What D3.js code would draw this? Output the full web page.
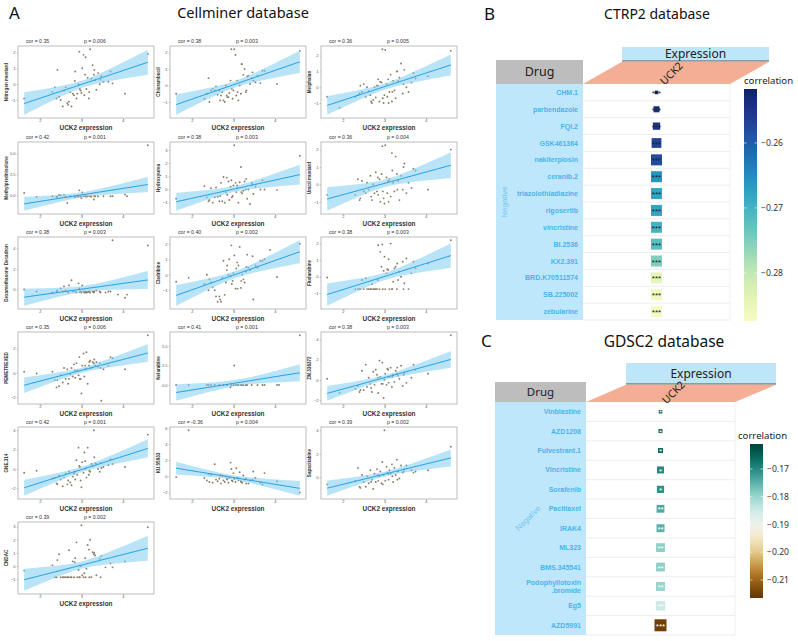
<!DOCTYPE html>
<html>
<head>
<meta charset="utf-8">
<script src="https://cdn.jsdelivr.net/npm/d3@7"></script>
<style>
  body { margin: 0; background: #fff; }
  svg { display: block; }
</style>
</head>
<body>
<svg id="fig" width="798" height="641"></svg>
<script>

/* Data
-------------------------------------------------------------------------------------------------*/

// UCK2 expression of the cell lines (shared x of every scatter)
const uck2 = [1.62, 1.92, 2.30, 2.36, 2.42, 2.46, 2.50, 2.55, 2.58, 2.62,
  2.66, 2.70, 2.73, 2.76, 2.79, 2.82, 2.85, 2.88, 2.90, 2.93,
  2.95, 2.98, 3.00, 3.02, 3.05, 3.07, 3.10, 3.12, 3.15, 3.18,
  3.21, 3.24, 3.27, 3.30, 3.33, 3.36, 3.40, 3.44, 3.48, 3.53,
  3.58, 3.65, 3.75, 3.88, 4.05, 4.60,
  2.40, 2.68, 2.84, 2.96, 3.09, 3.19, 3.31, 3.46, 3.70, 4.10]

const nitrogenMustard = [-0.9, null, -0.5, -0.2, 0.9, -0.8, -1.0, -1.4, -0.4, -0.2,
  -1.2, -1.1, -0.5, -1.4, -0.6, -0.7, 0.8, -0.9, -0.6, 0.0,
  2.05, -0.4, -0.55, 1.0, 1.85, -0.7, 1.7, -0.3, 0.4, -0.9,
  2.2, 0.35, 1.2, 0.6, 0.25, -0.35, 0.7, 0.0, 0.5, 0.15,
  null, 0.15, 0.05, null, -0.6, 1.9,
  -0.9, -1.3, 0.2, -0.3, 0.6, -0.5, 0.9, 0.3, 0.8, null]
const chlorambucil = [-0.5, null, -0.8, -0.5, -1.0, -0.3, -0.2, -0.3, -0.05, -0.55,
  -0.3, -0.6, -0.4, -0.9, -1.0, 0.0, -0.7, -0.7, -0.45, 0.3,
  2.2, -0.8, -0.3, 2.2, 1.85, -0.6, -0.4, -0.9, 0.0, -0.5,
  1.3, 0.65, 1.0, -0.4, 0.55, 0.6, 0.1, 0.45, 0.3, 0.2,
  0.6, 0.15, 0.9, null, 0.1, 2.1,
  0.45, -0.9, -0.6, -0.2, 0.3, 1.3, -0.3, 0.8, 0.9, null]
const melphalan = [-0.6, -1.3, -0.6, -0.5, 0.1, -0.3, 0.2, -0.6, 0.0, -0.25,
  -0.5, -1.0, -0.8, 0.0, -0.65, 0.1, 0.5, -0.9, 0.35, 0.3,
  2.4, -1.0, -0.5, 2.35, 0.2, -0.6, -1.0, -0.3, 0.8, -0.9,
  0.4, -0.2, -0.7, 1.0, 0.4, 0.6, 1.5, -0.4, 1.1, 0.0,
  -0.3, 0.3, 0.55, null, 0.7, 2.3,
  -0.4, -0.9, 0.1, -0.7, 0.5, -0.3, 1.0, 0.2, 0.9, null]
const methylprednisolone = [0.3, -0.2, -0.1, null, -0.15, 0.05, 0.0, null, 0.05, -0.15,
  -0.9, null, -0.1, null, null, null, -0.2, null, -0.1, -0.15,
  0.6, -0.1, -0.3, 0.35, -0.1, null, -0.1, -0.15, -0.1, null,
  -0.1, -0.15, null, -0.5, -0.1, null, -0.1, null, null, -0.1,
  null, null, -0.1, null, 0.1, 6.0,
  -0.2, null, -0.15, null, -0.1, null, -0.1, null, -0.1, -0.1]
const hydroxyurea = [-0.7, null, 0.25, -0.6, -0.8, 0.1, -1.0, -0.6, 0.15, -0.55,
  -0.9, 0.5, -0.9, 0.95, -1.0, -0.2, -0.4, 0.6, -0.8, 0.2,
  0.7, -0.5, 0.3, 3.35, 0.5, -0.2, 0.1, -1.0, 0.55, 1.7,
  -0.3, -0.1, 0.6, 0.0, -0.7, 0.0, -1.1, 0.5, -0.35, 0.2,
  null, 0.0, 0.0, null, -0.05, 2.55,
  -0.9, -0.5, 0.9, -0.6, 0.3, -0.2, 0.8, 0.4, 0.7, null]
const uracilMustard = [-0.6, null, -0.6, 0.3, -0.8, 0.2, -0.4, -0.5, 0.1, -0.3,
  0.5, -0.9, 0.0, -0.5, 0.7, -0.4, -0.6, 0.3, -1.0, 0.6,
  2.2, -0.8, -1.1, 2.25, 0.4, -0.5, -1.0, 0.3, -0.7, 1.8,
  0.1, -0.4, 1.6, 0.6, 0.2, -0.9, 0.5, -0.3, 1.2, -0.5,
  0.1, -0.2, 0.8, null, -0.3, 2.0,
  -0.9, -0.7, 0.4, -0.4, 0.2, 0.8, -0.3, 1.0, 0.9, null]
const dexamethasone = [0.0, -0.2, -0.3, null, -0.1, null, 0.1, -0.2, 0.3, -0.1,
  null, 0.4, null, 0.9, -0.2, null, null, -0.3, null, 0.6,
  0.1, -0.2, -0.3, 0.4, -0.2, -0.3, -0.2, -0.3, -0.25, -0.2,
  -0.3, null, -0.2, -0.3, null, -0.1, null, -0.2, null, null,
  -0.3, -0.2, 4.8, -0.5, -0.8, 4.3,
  -0.2, -0.3, -0.2, -0.25, -0.3, -0.2, -0.2, -0.3, -0.2, -0.5]
const cladribine = [-0.45, -0.2, -0.6, 0.0, -0.3, -0.5, -0.8, -1.0, -1.4, -1.75,
  -1.4, -1.75, -0.2, 0.9, -1.3, -0.5, 0.6, 0.0, 1.0, -0.1,
  1.9, -0.4, 0.1, 1.25, -0.9, 0.4, -0.9, 0.6, 1.8, -0.85,
  0.0, -0.3, -0.5, 0.2, 1.3, 0.45, 0.3, null, -1.6, 0.6,
  0.45, 0.9, 1.0, 1.6, -0.15, 2.0,
  -1.0, -1.6, 0.3, -0.6, 0.8, -0.4, 0.5, 1.2, 0.9, null]
const fludarabine = [-0.05, null, -0.75, -0.75, -0.75, -0.2, -0.75, -0.1, -0.75, -0.75,
  -0.75, -0.45, -0.75, -0.75, -0.75, -0.75, 1.9, -0.75, 1.5, 0.6,
  1.95, 0.35, 1.2, -0.75, 0.2, 0.45, 1.05, -0.75, 2.0, -0.75,
  -0.3, 0.5, 0.6, -0.75, -0.2, 0.3, 0.0, 0.9, -0.4, 1.1,
  -0.75, 0.2, 0.5, null, 0.8, 2.2,
  -0.75, -0.75, -0.2, -0.75, 0.4, -0.75, 0.8, -0.75, 0.9, null]
const pemetrexed = [0.1, -0.05, 0.1, -0.6, -0.6, -1.1, -0.2, -0.8, 0.4, -0.5,
  0.3, -0.5, -0.1, 0.4, -0.3, 0.7, -0.4, 0.8, 0.2, -0.2,
  1.3, -0.5, -1.7, 0.6, 1.6, -0.3, 0.3, 1.7, -0.9, 0.6,
  1.0, 0.4, 0.9, 0.8, 0.6, 0.9, 0.5, 0.8, -2.3, 0.3,
  null, 0.6, 1.2, null, 0.3, 3.1,
  -1.2, -0.9, 0.2, -0.5, 0.6, 0.9, 1.1, 0.4, 1.3, null]
const nelarabine = [0.0, 0.0, null, 0.0, null, 0.0, null, 0.0, null, null,
  0.0, null, null, 0.0, null, null, 0.0, null, null, -0.3,
  0.0, null, 0.0, 2.5, 0.0, null, 0.0, 0.0, null, 0.0,
  0.0, 0.0, null, 0.0, 0.0, null, null, 0.0, null, null,
  0.0, null, 0.0, null, 0.0, 6.4,
  0.0, null, 0.0, null, 0.0, null, 0.0, null, 0.0, 0.0]
const zm336372 = [0.1, -1.3, -0.9, -0.6, -1.0, 0.9, -1.0, 1.5, -0.7, 0.2,
  -0.4, -1.2, 0.8, -0.5, 1.0, 0.5, -1.3, 1.9, 0.3, -0.4,
  1.7, -1.8, 0.0, 0.6, -0.5, 1.1, -0.3, 0.3, 1.2, -0.7,
  0.5, -0.2, 0.9, 0.6, 0.4, 0.1, 1.4, -0.6, 0.7, -0.3,
  null, 0.2, 1.0, null, 0.6, 4.4,
  -1.2, -0.8, 0.2, -0.4, 1.0, 0.3, 1.2, 0.5, 1.5, null]
const gne314 = [-0.4, -0.2, -1.0, -0.9, -1.6, -0.7, -1.1, -1.8, -0.9, -0.5,
  -1.6, -0.3, -1.4, -1.7, -0.8, -0.5, -1.1, 0.9, -0.6, 2.2,
  0.3, -1.2, -1.9, 0.7, -0.4, 1.7, 0.0, -0.9, 2.2, -0.6,
  -0.3, 0.5, 0.3, 4.0, 0.6, 0.5, 0.0, -0.3, 0.1, 0.2,
  null, 0.4, 0.5, null, 0.2, 3.55,
  -1.5, -1.2, -0.3, 0.2, 0.8, -0.2, 1.2, 0.6, 1.0, null]
const ku55933 = [-0.1, 5.7, -0.2, -0.5, -0.7, 0.2, -0.8, 1.5, -0.4, -0.6,
  -0.3, -0.9, 0.1, -0.5, -0.7, 0.0, -0.4, -0.8, -0.2, 1.7,
  0.9, -0.6, 0.4, -0.3, -0.7, 1.0, -0.2, -0.5, 0.5, -0.6,
  -0.8, 0.1, -0.4, -0.3, null, -0.9, -0.5, null, 0.6, -0.2,
  null, -0.8, 0.4, null, -0.6, -2.0,
  0.3, 0.1, -0.3, -0.5, -0.2, -0.7, -0.9, -0.4, -1.0, null]
const sapacitabine = [-0.6, null, -0.3, 0.8, -0.9, 0.2, -0.4, -0.8, 0.1, -0.5,
  0.6, -0.2, -1.0, 0.3, -0.4, 0.7, -0.3, 0.1, 0.5, -0.5,
  1.3, 0.2, 4.0, -0.3, 0.9, 0.4, -0.2, 0.6, 0.3, 1.1,
  -0.4, 0.8, 0.2, 1.5, 0.5, -0.1, 1.0, 0.4, 0.7, 1.0,
  null, 0.6, 0.5, null, 0.6, 2.6,
  -0.8, -0.4, 0.2, -0.6, 0.3, 0.1, -0.2, 0.5, 0.4, null]
const cndac = [-0.35, null, 0.05, -0.85, 0.45, 0.9, -0.85, -0.85, -0.85, -0.85,
  -0.85, 1.2, -0.85, -0.85, 0.35, -0.85, 0.6, 1.8, -0.85, -0.3,
  -0.85, 0.0, 3.1, -0.7, -0.85, -0.55, -0.85, -0.2, 1.6, 1.25,
  2.0, -0.85, 1.05, 0.9, 0.8, -0.7, null, 0.55, 0.75, null,
  -0.1, null, -0.1, null, 0.35, 2.95,
  -0.85, -0.85, 0.3, -0.85, 0.6, -0.85, 1.0, -0.85, 0.2, null]

const cellminerNames = ["Nitrogen mustard", "Chlorambucil", "Melphalan",
  "Methylprednisolone", "Hydroxyurea", "Uracil mustard",
  "Dexamethasone Decadron", "Cladribine", "Fludarabine",
  "PEMETREXED", "Nelarabine", "ZM.336372",
  "GNE.314", "KU.55933", "Sapacitabine",
  "CNDAC"]
const cellminerValues = [nitrogenMustard, chlorambucil, melphalan,
  methylprednisolone, hydroxyurea, uracilMustard,
  dexamethasone, cladribine, fludarabine,
  pemetrexed, nelarabine, zm336372,
  gne314, ku55933, sapacitabine,
  cndac]
const corLabels = ["0.35", "0.38", "0.36", "0.42", "0.38", "0.36", "0.38", "0.40", "0.38",
  "0.35", "0.41", "0.38", "0.42", "-0.36", "0.39", "0.39"]
const pLabels = ["0.006", "0.003", "0.005", "0.001", "0.003", "0.004", "0.003", "0.002", "0.003",
  "0.006", "0.001", "0.003", "0.001", "0.004", "0.002", "0.002"]
const yTickLabels = [[-1, 0, 1, 2], [-1, 0, 1, 2], [-1, 0, 1, 2],
  [0, 2.5, 5], [-1, 0, 1, 2, 3], [-1, 0, 1, 2],
  [0, 2, 4], [-1, 0, 1, 2], [-1, 0, 1, 2],
  [-2, 0, 2], [0, 2.5, 5], [-2, 0, 2, 4],
  [-2, 0, 2, 4], [-2, 0, 2, 4, 6], [-2, 0, 2, 4],
  [-1, 0, 1, 2, 3]]
const xTickLabels = [2, 3, 4]

// CTRP2
const ctrpDrugs = ["CHM.1", "parbendazole", "FQI.2", "GSK461364", "nakiterpiosin", "ceranib.2",
  "triazolothiadiazine", "rigosertib", "vincristine", "BI.2536", "KX2.391", "BRD.K70511574",
  "SB.225002", "zebularine"]
const ctrpCor = [-0.252, -0.254, -0.255, -0.257, -0.258, -0.266, -0.268, -0.268, -0.270, -0.272,
  -0.275, -0.284, -0.286, -0.287]
const ctrpStars = ["***", "***", "***", "***", "***", "***", "***", "***", "***", "***", "***", "***", "***", "***"]
const ctrpTicks = [-0.26, -0.27, -0.28]

// GDSC2
const gdscDrugs = ["Vinblastine", "AZD1208", "Fulvestrant.1", "Vincristine", "Sorafenib", "Paclitaxel",
  "IRAK4", "ML323", "BMS.345541", "Podophyllotoxin\n.bromide", "Eg5", "AZD5991"]
const gdscCor = [-0.163, -0.164, -0.166, -0.170, -0.171, -0.174, -0.175, -0.179, -0.179, -0.180,
  -0.185, -0.215]
const gdscStars = ["*", "*", "*", "*", "*", "**", "**", "**", "**", "**", "**", "***"]
const gdscTicks = [-0.17, -0.18, -0.19, -0.20, -0.21]


/* Setup
-------------------------------------------------------------------------------------------------*/
const svg = d3.select("#fig")
const SANS = "'Liberation Sans', Arial, sans-serif"
const TITLE = "'Noto Sans', 'Open Sans', sans-serif"

const title = (x, y, txt, size, anchor) => svg.append("text")
  .attr("x", x).attr("y", y)
  .attr("text-anchor", anchor || "start")
  .style("font-family", TITLE)
  .style("font-size", size + "px")
  .style("fill", "#111")
  .text(txt)

title(9, 19, "A", 17)
title(243, 18, "Cellminer database", 14.5, "middle")
title(484, 20, "B", 17)
title(657, 19, "CTRP2 database", 14, "middle")
title(481, 347, "C", 17)
title(664, 347, "GDSC2 database", 15.5, "middle")


/* Panel A: scatter + lm
-------------------------------------------------------------------------------------------------*/
const colLeft = [18, 170, 321]
const rowTop = [46, 142, 237, 332, 427, 522]
const frameW = 136, frameH = 72
const tCrit = 2.0

const expand = ([a, b]) => [a - (b - a) * 0.05, b + (b - a) * 0.05]

cellminerValues.forEach((values, i) => {

  const c = i % 3, r = Math.floor(i / 3)
  const g = svg.append("g")
    .attr("transform", "translate(" + colLeft[c] + "," + rowTop[r] + ")")
    .style("font-family", SANS)

  const pts = uck2.map((x, k) => ({x, y: values[k]})).filter(d => d.y != null)

  // linear model, as geom_smooth(method = "lm")
  const n = pts.length
  const mx = d3.mean(pts, d => d.x), my = d3.mean(pts, d => d.y)
  const sxx = d3.sum(pts, d => (d.x - mx) ** 2)
  const sxy = d3.sum(pts, d => (d.x - mx) * (d.y - my))
  const slope = sxy / sxx, icpt = my - slope * mx
  const sigma = Math.sqrt(d3.sum(pts, d => (d.y - icpt - slope * d.x) ** 2) / (n - 2))
  const [xmin, xmax] = d3.extent(pts, d => d.x)
  const grid = d3.range(80).map(k => xmin + (xmax - xmin) * k / 79)
  const band = grid.map(x => {
    const fit = icpt + slope * x
    const se = sigma * Math.sqrt(1 / n + (x - mx) ** 2 / sxx)
    return {x, fit, lo: fit - tCrit * se, hi: fit + tCrit * se}
  })

  const x = d3.scaleLinear().domain(expand([xmin, xmax])).range([0, frameW])
  const yLo = Math.min(d3.min(pts, d => d.y), d3.min(band, d => d.lo))
  const yHi = Math.max(d3.max(pts, d => d.y), d3.max(band, d => d.hi))
  const y = d3.scaleLinear().domain(expand([yLo, yHi])).range([frameH, 0])

  // points
  g.append("g").selectAll("circle")
    .data(pts)
    .enter()
    .append("circle")
    .attr("cx", d => x(d.x))
    .attr("cy", d => y(d.y))
    .attr("r", 0.95)
    .style("fill", "#8a7b68")

  // confidence band
  g.append("path")
    .datum(band)
    .style("fill", "#7fcdf2")
    .style("fill-opacity", 0.55)
    .attr("d", d3.area().x(d => x(d.x)).y0(d => y(d.lo)).y1(d => y(d.hi)))

  // fit
  g.append("path")
    .datum(band)
    .style("fill", "none")
    .style("stroke", "#1b9de2")
    .style("stroke-width", 1)
    .attr("d", d3.line().x(d => x(d.x)).y(d => y(d.fit)))

  // frame
  g.append("rect")
    .attr("width", frameW).attr("height", frameH)
    .style("fill", "none").style("stroke", "#b5b5b5").style("stroke-width", 0.9)

  // axes
  const yt = yTickLabels[i].filter(v => v >= y.domain()[0] && v <= y.domain()[1])
  const yFmt = yTickLabels[i].some(v => !Number.isInteger(v)) ? d3.format(".1f") : d3.format("d")
  const ax = g.append("g")
    .call(d3.axisLeft(y).tickValues(yt).tickSize(1.5).tickPadding(1).tickFormat(yFmt))
  const bx = g.append("g")
    .attr("transform", "translate(0," + frameH + ")")
    .call(d3.axisBottom(x).tickValues(xTickLabels).tickSize(1.2).tickPadding(0.4).tickFormat(d3.format("d")))
  ;[ax, bx].forEach(a => {
    a.select(".domain").remove()
    a.selectAll("line").style("stroke", "#999").style("stroke-width", 0.5)
    a.selectAll("text").style("font-size", "4px").style("fill", "#555").style("font-family", SANS)
  })

  // labels
  g.append("text")
    .attr("transform", "rotate(-90)")
    .attr("x", -frameH / 2).attr("y", -10)
    .attr("text-anchor", "middle")
    .style("font-size", "4.6px").style("font-weight", "bold").style("fill", "#333")
    .text(cellminerNames[i])

  g.append("text")
    .attr("x", frameW / 2).attr("y", frameH + 12)
    .attr("text-anchor", "middle")
    .style("font-size", "6.4px").style("font-weight", "bold").style("fill", "#333")
    .text("UCK2 expression")

  g.append("text")
    .attr("x", 8).attr("y", -3)
    .style("font-size", "5.2px").style("fill", "#333")
    .text("cor = " + corLabels[i])

  g.append("text")
    .attr("x", 66).attr("y", -3)
    .style("font-size", "5.2px").style("fill", "#333")
    .text("p = " + pLabels[i])
})


/* Panels B & C: correlation tables
-------------------------------------------------------------------------------------------------*/
function corTable(o) {

  const g = svg.append("g").style("font-family", SANS)
  const rows = d3.scaleBand().domain(o.drugs).range([o.top, o.bottom])
  const cx = (o.listX1 + o.cellX1) / 2

  // header
  g.append("rect")
    .attr("x", o.exprX0).attr("y", o.exprY0)
    .attr("width", o.exprX1 - o.exprX0).attr("height", o.exprY1 - o.exprY0)
    .style("fill", "#bde6f9")
  g.append("line")
    .attr("x1", o.exprX0).attr("x2", o.exprX1).attr("y1", o.exprY1).attr("y2", o.exprY1)
    .style("stroke", "#555").style("stroke-width", 1.2)
  g.append("text")
    .attr("x", (o.exprX0 + o.exprX1) / 2).attr("y", (o.exprY0 + o.exprY1) / 2 + 4.3)
    .attr("text-anchor", "middle")
    .style("font-family", TITLE).style("font-size", "12px").style("fill", "#222")
    .text("Expression")

  g.append("path")
    .attr("d", d3.line()([[o.listX1, o.top], [o.exprX0, o.exprY1 + 0.8], [o.exprX1, o.exprY1 + 0.8], [o.cellX1, o.top]]) + "Z")
    .style("fill", "#f4ae95")
  g.append("text")
    .attr("transform", "translate(" + o.uckX + "," + o.uckY + ") rotate(-45)")
    .attr("text-anchor", "middle")
    .style("font-family", TITLE).style("font-size", "10.5px").style("fill", "#222")
    .text("UCK2")

  g.append("rect")
    .attr("x", o.listX0).attr("y", o.drugY0)
    .attr("width", o.listX1 - o.listX0).attr("height", o.top - o.drugY0)
    .style("fill", "#bdbdbd")
  g.append("text")
    .attr("x", (o.listX0 + o.listX1) / 2).attr("y", (o.drugY0 + o.top) / 2 + 4.2)
    .attr("text-anchor", "middle")
    .style("font-family", TITLE).style("font-size", o.drugSize + "px").style("fill", "#222")
    .text("Drug")

  // drug column
  g.append("rect")
    .attr("x", o.listX0).attr("y", o.top)
    .attr("width", o.listX1 - o.listX0).attr("height", o.bottom - o.top)
    .style("fill", "#bfe7fb")

  g.append("text")
    .attr("transform", "translate(" + o.negX + "," + o.negY + ") rotate(" + o.negAngle + ")")
    .attr("text-anchor", "middle")
    .style("font-size", "8px").style("fill", "#74c6ee")
    .text("Negative")

  o.drugs.forEach(d => {
    const lines = d.split("\n")
    const t = g.append("text")
      .attr("x", o.listX1 - 5)
      .attr("y", rows(d) + rows.bandwidth() / 2 + 2.5 - (lines.length - 1) * 4)
      .attr("text-anchor", "end")
      .style("font-size", "7px").style("font-weight", "bold").style("fill", "#4ab4ea")
    lines.forEach((l, k) => t.append("tspan").attr("x", o.listX1 - 5).attr("dy", k ? 8 : 0).text(l))
  })

  // cell grid
  g.append("g").selectAll("line")
    .data(o.drugs)
    .enter()
    .append("line")
    .attr("x1", o.listX1).attr("x2", o.cellX1)
    .attr("y1", d => rows(d) + rows.bandwidth()).attr("y2", d => rows(d) + rows.bandwidth())
    .style("stroke", "#e9e9e9").style("stroke-width", 0.8)
  g.append("line")
    .attr("x1", o.cellX1).attr("x2", o.cellX1).attr("y1", o.top).attr("y2", o.bottom)
    .style("stroke", "#ececec").style("stroke-width", 0.8)

  // tiles
  o.drugs.forEach((d, i) => {
    const s = o.size(o.cor[i])
    const yc = rows(d) + rows.bandwidth() / 2
    g.append("rect")
      .attr("x", cx - s / 2).attr("y", yc - s / 2)
      .attr("width", s).attr("height", s)
      .style("fill", o.color(o.cor[i]))
    g.append("text")
      .attr("x", cx).attr("y", yc + 3.6)
      .attr("text-anchor", "middle")
      .style("font-size", "8px").style("fill", o.starColor)
      .text(o.stars[i])
  })

  // colour bar
  const yb = d3.scaleLinear().domain(o.barDomain).range([o.barY1, o.barY0])
  const gradId = "grad" + o.id
  const grad = svg.append("defs").append("linearGradient")
    .attr("id", gradId).attr("x1", 0).attr("x2", 0).attr("y1", 0).attr("y2", 1)
  d3.range(21).forEach(k => {
    const v = yb.invert(o.barY0 + (o.barY1 - o.barY0) * k / 20)
    grad.append("stop").attr("offset", k / 20).attr("stop-color", o.color(v))
  })
  g.append("rect")
    .attr("x", o.barX).attr("y", o.barY0)
    .attr("width", 13).attr("height", o.barY1 - o.barY0)
    .style("fill", "url(#" + gradId + ")")

  g.append("text")
    .attr("x", o.barX - o.corrDx).attr("y", o.barY0 - 5)
    .style("font-family", TITLE).style("font-size", "9.6px").style("fill", "#222")
    .text("correlation")

  const axis = g.append("g")
    .attr("transform", "translate(" + (o.barX + 13) + ",0)")
    .call(d3.axisRight(yb).tickValues(o.ticks).tickSize(0).tickPadding(4).tickFormat(d3.format(".2f")))
  axis.select(".domain").remove()
  axis.selectAll("text").style("font-family", TITLE).style("font-size", "8.6px").style("fill", "#333")
  g.append("g").selectAll("line")
    .data(o.ticks)
    .enter()
    .append("line")
    .attr("x1", o.barX).attr("x2", o.barX + 2.5)
    .attr("y1", d => yb(d)).attr("y2", d => yb(d))
    .style("stroke", "#fff").style("stroke-width", 0.6)
  g.append("g").selectAll("line")
    .data(o.ticks)
    .enter()
    .append("line")
    .attr("x1", o.barX + 10.5).attr("x2", o.barX + 13)
    .attr("y1", d => yb(d)).attr("y2", d => yb(d))
    .style("stroke", "#fff").style("stroke-width", 0.6)
}

const ctrpColor = d3.scaleLinear().domain([-0.2874, -0.2517]).range([0.06, 0.97])
const gdscColor = d3.scaleLinear().domain([-0.2165, -0.19, -0.161]).range([0.02, 0.5, 0.98])

corTable({
  id: "B",
  drugs: ctrpDrugs, cor: ctrpCor, stars: ctrpStars, ticks: ctrpTicks,
  listX0: 496, listX1: 583, cellX1: 730, top: 84, bottom: 320,
  drugY0: 60, drugSize: 12.5,
  exprX0: 622, exprX1: 769, exprY0: 47, exprY1: 61,
  uckX: 674, uckY: 76,
  negX: 507, negY: 202, negAngle: -90,
  color: v => d3.interpolateYlGnBu(ctrpColor(v)),
  size: d3.scaleLinear().domain([-0.2515, -0.258]).range([3, 11]).clamp(true),
  starColor: "#222",
  barX: 744, barY0: 89, barY1: 321, barDomain: [-0.2874, -0.2517], corrDx: 0
})

corTable({
  id: "C",
  drugs: gdscDrugs, cor: gdscCor, stars: gdscStars, ticks: gdscTicks,
  listX0: 495, listX1: 586, cellX1: 735, top: 402, bottom: 635,
  drugY0: 382, drugSize: 11.5,
  exprX0: 626, exprX1: 776, exprY0: 363, exprY1: 384,
  uckX: 676, uckY: 395,
  negX: 530, negY: 520, negAngle: -45,
  color: v => d3.interpolateBrBG(gdscColor(v)),
  size: d3.scaleLinear().domain([-0.162, -0.17, -0.18, -0.215]).range([3, 7, 9, 12]).clamp(true),
  starColor: "#fff",
  barX: 750, barY0: 444, barY1: 598, barDomain: [-0.2165, -0.161], corrDx: 12
})

</script>
</body>
</html>
